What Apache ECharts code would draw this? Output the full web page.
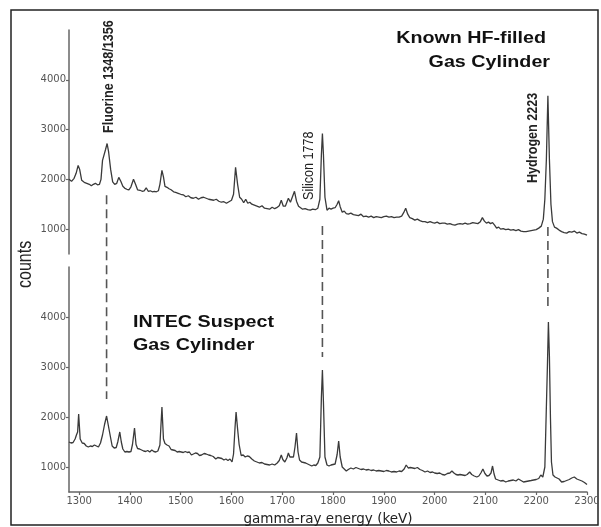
<!DOCTYPE html>
<html>
<head>
<meta charset="utf-8">
<script src="https://cdn.jsdelivr.net/npm/echarts@6/dist/echarts.min.js"></script>
<style>
html,body{margin:0;padding:0;background:#fff;}
#main{width:601px;height:527px;}
</style>
</head>
<body>
<div id="main"></div>
<script>
// ---- data ----
const xTicks = [1300,1400,1500,1600,1700,1800,1900,2000,2100,2200,2300];
const yTicks = [1000,2000,3000,4000];

const knownEnergy = [1280,1285,1290,1294,1298,1301,1305,1310,1315,1320,1324,1328,1332,1336,1340,1343,1346,1349,1352,1355,1358,1362,1366,1370,1374,1378,1382,1386,1390,1394,1398,1402,1407,1411,1415,1420,1424,1428,1432,1436,1440,1444,1448,1452,1456,1459,1463,1466,1469,1473,1477,1481,1486,1490,1495,1500,1505,1510,1515,1520,1525,1530,1535,1540,1545,1550,1555,1560,1565,1570,1575,1580,1585,1590,1595,1600,1604,1608,1612,1616,1620,1624,1628,1632,1636,1640,1645,1650,1655,1660,1665,1670,1675,1680,1685,1689,1694,1698,1702,1706,1712,1716,1719,1724,1728,1732,1736,1740,1745,1750,1755,1760,1765,1770,1774,1777,1779,1781,1784,1788,1792,1796,1800,1804,1808,1811,1814,1818,1822,1826,1830,1835,1840,1845,1850,1855,1860,1865,1870,1875,1880,1885,1890,1895,1900,1905,1910,1915,1920,1925,1930,1935,1939,1943,1947,1951,1956,1961,1966,1971,1976,1981,1986,1991,1996,2000,2005,2010,2015,2020,2025,2030,2035,2040,2045,2050,2055,2060,2065,2070,2075,2080,2085,2090,2094,2098,2102,2106,2110,2114,2118,2122,2126,2130,2135,2140,2145,2150,2155,2160,2165,2170,2175,2180,2185,2190,2195,2200,2205,2210,2214,2217,2220,2223,2226,2229,2232,2236,2240,2245,2250,2255,2260,2265,2270,2275,2280,2285,2290,2295,2300];
const knownCounts = [2000,1960,2020,2120,2280,2200,1980,1940,1920,1900,1870,1900,1920,1890,1900,2000,2380,2400,2600,2720,2550,2200,1950,1900,1920,2040,1960,1860,1820,1800,1790,1850,2000,1900,1790,1780,1760,1770,1830,1760,1770,1750,1760,1750,1770,1900,2180,2050,1860,1840,1810,1790,1750,1740,1720,1700,1690,1650,1670,1630,1620,1640,1600,1630,1640,1620,1600,1590,1580,1600,1560,1540,1550,1520,1550,1580,1700,2240,1900,1640,1600,1530,1600,1520,1540,1500,1480,1460,1440,1470,1420,1410,1400,1440,1410,1430,1470,1580,1460,1460,1620,1540,1520,1760,1560,1460,1430,1400,1410,1390,1380,1400,1390,1420,1600,2500,2920,2500,1640,1380,1420,1400,1420,1430,1500,1570,1450,1340,1360,1310,1300,1320,1290,1280,1270,1300,1250,1260,1240,1260,1230,1250,1240,1230,1250,1260,1240,1250,1230,1240,1240,1260,1330,1420,1300,1230,1210,1180,1200,1170,1150,1150,1130,1150,1130,1120,1140,1110,1120,1120,1100,1110,1090,1080,1100,1110,1100,1120,1100,1110,1130,1120,1110,1150,1230,1160,1120,1140,1110,1130,1080,1020,1040,1000,1010,990,1000,980,990,970,990,960,950,950,960,970,980,990,1020,1060,1200,1600,2400,3680,2400,1500,1150,1040,1020,980,950,930,920,950,940,960,920,940,910,900,880];

const suspectEnergy = [1280,1284,1288,1292,1295,1297,1299,1302,1306,1310,1314,1318,1322,1326,1330,1334,1338,1342,1346,1350,1354,1358,1362,1365,1369,1373,1376,1380,1383,1386,1390,1394,1398,1402,1405,1409,1412,1415,1419,1423,1427,1431,1435,1439,1443,1447,1451,1455,1459,1463,1466,1469,1473,1477,1481,1485,1489,1493,1497,1501,1505,1509,1513,1517,1521,1525,1529,1533,1537,1541,1546,1550,1555,1559,1564,1569,1573,1577,1581,1585,1589,1593,1597,1601,1604,1607,1609,1612,1615,1619,1623,1627,1631,1635,1640,1645,1650,1655,1660,1665,1670,1675,1680,1685,1690,1694,1698,1701,1705,1709,1712,1715,1718,1722,1725,1728,1731,1734,1738,1742,1746,1750,1754,1758,1762,1766,1770,1774,1777,1779,1781,1784,1788,1792,1796,1800,1804,1808,1811,1814,1818,1822,1826,1830,1835,1840,1845,1850,1855,1860,1865,1870,1875,1880,1885,1890,1895,1900,1905,1910,1915,1920,1925,1930,1935,1940,1944,1948,1952,1957,1961,1966,1971,1976,1981,1986,1991,1996,2000,2005,2010,2015,2020,2025,2030,2034,2038,2042,2046,2050,2055,2060,2064,2069,2073,2078,2083,2087,2091,2095,2099,2103,2107,2111,2114,2117,2120,2125,2130,2135,2140,2145,2150,2155,2160,2165,2170,2175,2180,2185,2190,2195,2200,2205,2209,2213,2217,2219,2222,2224,2226,2228,2230,2233,2237,2241,2245,2250,2255,2260,2265,2270,2275,2280,2285,2290,2295,2300];
const suspectCounts = [1500,1480,1490,1560,1650,1700,2060,1560,1480,1470,1420,1400,1420,1410,1440,1420,1400,1480,1640,1850,2020,1800,1580,1420,1380,1390,1500,1700,1500,1360,1300,1310,1300,1310,1450,1780,1450,1370,1360,1340,1320,1310,1330,1300,1340,1310,1300,1320,1440,2200,1560,1470,1440,1420,1350,1340,1330,1300,1310,1300,1290,1310,1290,1300,1240,1260,1280,1270,1230,1240,1270,1260,1240,1230,1210,1160,1190,1180,1170,1140,1160,1130,1160,1100,1260,1800,2100,1760,1450,1230,1240,1200,1220,1210,1160,1120,1100,1080,1090,1060,1050,1040,1060,1040,1080,1130,1240,1150,1100,1180,1280,1200,1160,1200,1400,1680,1300,1140,1100,1090,1080,1060,1040,1020,1040,1030,1080,1200,2400,2940,2300,1200,1040,1020,1040,1050,1060,1250,1520,1200,1000,960,920,950,980,960,990,970,950,960,940,950,930,940,920,930,920,910,930,920,900,910,900,920,910,960,1040,980,990,980,970,990,950,930,900,920,890,900,880,870,880,850,840,870,880,920,880,850,840,850,840,830,850,900,850,820,800,820,880,960,870,820,830,880,1020,860,760,740,720,730,700,720,730,740,720,760,730,700,710,720,730,740,750,770,840,800,1000,1800,3000,3900,3200,2000,1100,840,800,780,760,700,710,730,750,780,800,760,740,720,690,650];

// peak markers (energy, where the dashed guide starts in the top panel, where it ends in the bottom panel)
const markerEnergy = [1354, 1779, 2223];
const markerTopFrom = [1680, 1060, 1040];
const markerBottomTo = [2360, 3200, 4200];
const markerLabels = ['Fluorine 1348/1356', 'Silicon 1778', 'Hydrogen 2223'];

// ---- chart ----
const chart = echarts.init(document.getElementById('main'), null, {renderer: 'canvas'});
const axisColor = '#666';
const labelFont = 'DejaVu Sans';
const plain = v => String(v);

function pairs(xs, ys){ return xs.map((x,i)=>[x, ys[i]]); }

function yAxisCfg(gi){
  return {
    gridIndex: gi, type: 'value', min: 500, max: 5000,
    axisLine: {show: true, lineStyle: {color: axisColor, width: 1.5}},
    axisTick: {show: true, customValues: yTicks, length: 3, lineStyle: {color: axisColor, width: 1.2}},
    axisLabel: {customValues: yTicks, formatter: plain, fontSize: 10, color: '#555', fontFamily: labelFont, margin: 3},
    splitLine: {show: false}
  };
}

chart.setOption({
  animation: false,
  backgroundColor: '#fff',
  grid: [
    {left: 69, top: 30, width: 518, height: 224, outerBoundsMode: 'none', containLabel: false},
    {left: 69, top: 267, width: 518, height: 225, outerBoundsMode: 'none', containLabel: false}
  ],
  xAxis: [
    {gridIndex: 0, type: 'value', min: 1280, max: 2300, show: false},
    {gridIndex: 1, type: 'value', min: 1280, max: 2300,
     axisLine: {show: true, lineStyle: {color: axisColor, width: 1.5}},
     axisTick: {show: true, customValues: xTicks, length: 3, lineStyle: {color: axisColor, width: 1.2}},
     axisLabel: {customValues: xTicks, formatter: plain, fontSize: 10, color: '#555', fontFamily: labelFont, margin: 4},
     splitLine: {show: false},
     name: 'gamma-ray energy (keV)', nameLocation: 'middle', nameGap: 20,
     nameTextStyle: {fontSize: 13.5, color: '#222', fontFamily: labelFont}
    }
  ],
  yAxis: [yAxisCfg(0), yAxisCfg(1)],
  series: [
    {type: 'line', name: 'Known HF-filled Gas Cylinder', xAxisIndex: 0, yAxisIndex: 0,
     data: pairs(knownEnergy, knownCounts), showSymbol: false, symbol: 'none',
     lineStyle: {color: '#3a3a3a', width: 1.3}},
    {type: 'line', name: 'INTEC Suspect Gas Cylinder', xAxisIndex: 1, yAxisIndex: 1,
     data: pairs(suspectEnergy, suspectCounts), showSymbol: false, symbol: 'none',
     lineStyle: {color: '#3a3a3a', width: 1.3}}
  ]
});

const SX = 1.23;
const graphics = [
  {type: 'rect', id: 'frame', shape: {x: 11, y: 10, width: 587, height: 515},
   style: {fill: 'none', stroke: '#222', lineWidth: 1.5}, z: 0},
  {type: 'text', id: 't1a', x: 546, y: 39, scaleX: SX,
   style: {text: 'Known HF-filled', fontFamily: 'Liberation Sans', fontWeight: 'bold', fontSize: 16, fill: '#111', align: 'right', verticalAlign: 'middle'}},
  {type: 'text', id: 't1b', x: 550, y: 63, scaleX: SX,
   style: {text: 'Gas Cylinder', fontFamily: 'Liberation Sans', fontWeight: 'bold', fontSize: 16, fill: '#111', align: 'right', verticalAlign: 'middle'}},
  {type: 'text', id: 't2a', x: 133, y: 323, scaleX: SX,
   style: {text: 'INTEC Suspect', fontFamily: 'Liberation Sans', fontWeight: 'bold', fontSize: 16, fill: '#111', align: 'left', verticalAlign: 'middle'}},
  {type: 'text', id: 't2b', x: 133, y: 346, scaleX: SX,
   style: {text: 'Gas Cylinder', fontFamily: 'Liberation Sans', fontWeight: 'bold', fontSize: 16, fill: '#111', align: 'left', verticalAlign: 'middle'}},
  {type: 'text', id: 'counts', x: 26, y: 288, rotation: Math.PI/2, scaleY: SX,
   style: {text: 'counts', fontFamily: 'Liberation Sans', fontSize: 16, fill: '#222', align: 'left', verticalAlign: 'middle'}}
];

// annotation text positions (anchored at bottom of rotated text)
const annPos = [[109, 133, 'bold'], [309, 200, 'normal'], [533, 183, 'bold']];
markerLabels.forEach((t, i) => {
  graphics.push({type: 'text', id: 'ann' + i, x: annPos[i][0], y: annPos[i][1], rotation: Math.PI/2, scaleY: SX,
    style: {text: t, fontFamily: 'Liberation Sans', fontWeight: annPos[i][2], fontSize: 12.6, fill: '#222', align: 'left', verticalAlign: 'middle'}});
});

// dashed guides from top panel to bottom panel, positioned via the chart's scales
markerEnergy.forEach((e, i) => {
  const p1 = chart.convertToPixel({gridIndex: 0}, [e, markerTopFrom[i]]);
  const p2 = chart.convertToPixel({gridIndex: 1}, [e, markerBottomTo[i]]);
  graphics.push({type: 'line', id: 'guide' + i,
    shape: {x1: p1[0], y1: p1[1], x2: p2[0], y2: p2[1]},
    style: {stroke: '#555', lineWidth: 1.6, lineDash: [9, 5]}});
});

chart.setOption({graphic: graphics});
</script>
</body>
</html>
